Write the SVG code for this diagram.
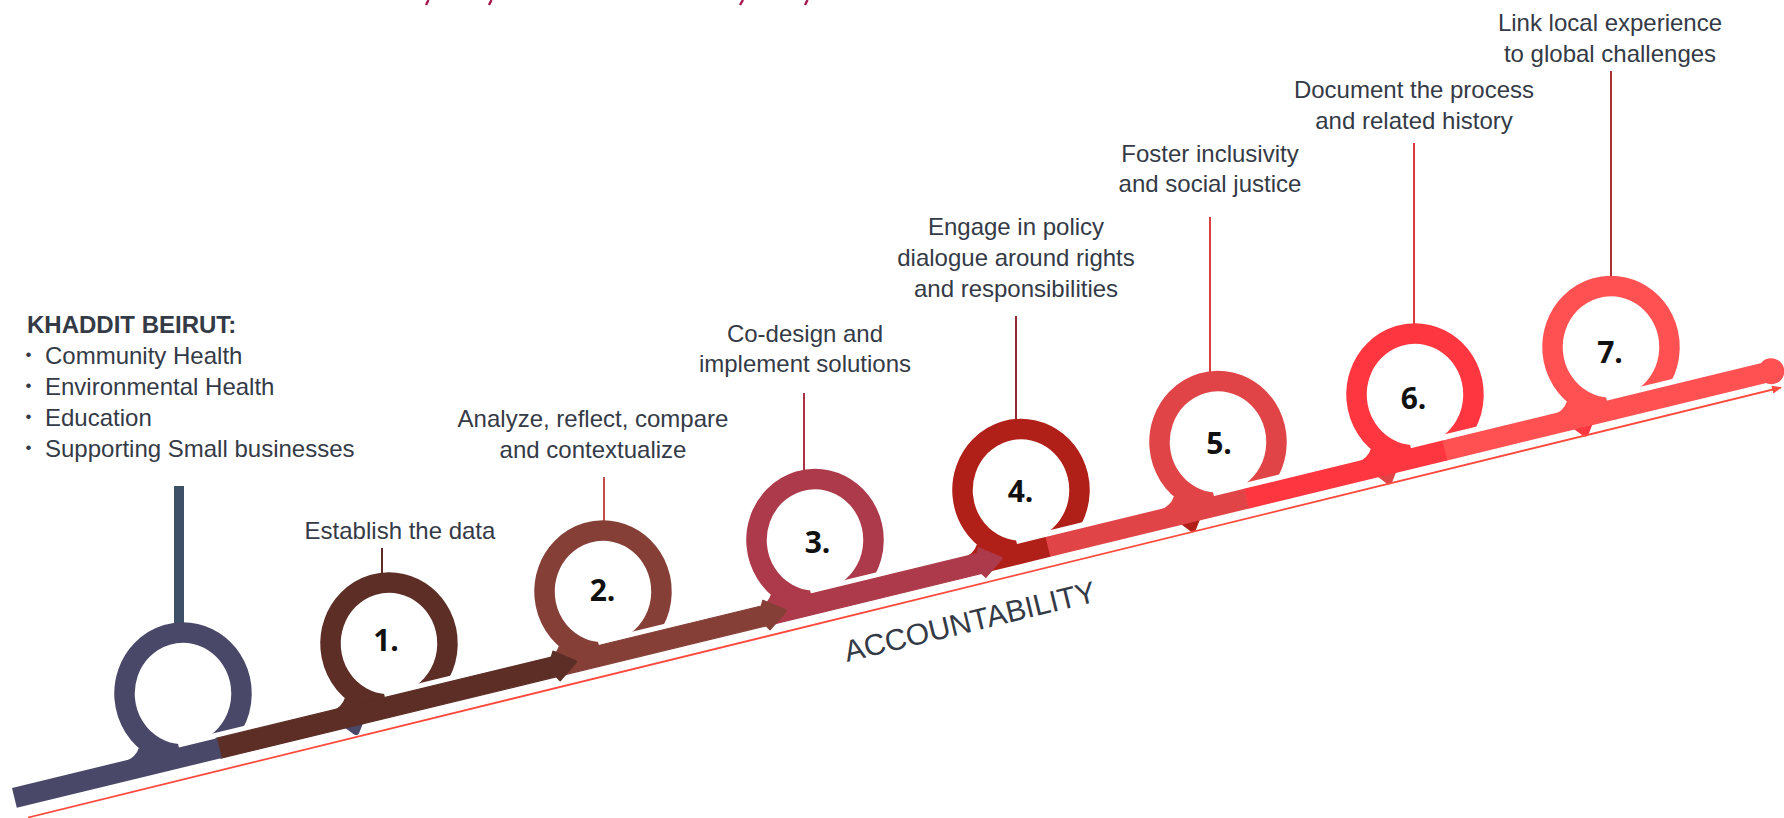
<svg xmlns="http://www.w3.org/2000/svg" width="1784" height="818" viewBox="0 0 1784 818">
<defs>
<style>
.lbl{font-family:"Liberation Sans",Arial,sans-serif;font-size:24px;fill:#343a46;text-anchor:middle}
.lst{font-family:"Liberation Sans",Arial,sans-serif;font-size:24px;fill:#343a46}
.bul{font-family:"Liberation Sans",Arial,sans-serif;font-size:17px;fill:#343a46}
.num{font-family:"Open Sans","DejaVu Sans",sans-serif;font-weight:700;font-size:30px;fill:#111111;text-anchor:middle}
.ring{fill:none;stroke-width:20.5}
.conn{stroke-width:2;fill:none}
.frag{stroke:#a3164c;stroke-width:2.4;fill:none}
.band{fill:#ffffff}
</style>
<marker id="arr" viewBox="0 0 10 8" refX="9" refY="4" markerWidth="10" markerHeight="8" markerUnits="userSpaceOnUse" orient="auto">
<path d="M0,0 L10,4 L0,8 Z" fill="#ff4a3d"/>
</marker>
</defs>
<rect width="1784" height="818" fill="#ffffff"/>

<g id="top-fragments">
<line class="frag" x1="428.5" y1="0" x2="426" y2="5"/>
<line class="frag" x1="491.5" y1="0" x2="489" y2="5"/>
<line class="frag" x1="743" y1="0" x2="740" y2="5"/>
<line class="frag" x1="807.5" y1="0" x2="805" y2="5"/>
</g>

<g id="node-khaddit">
<text class="lst" x="27" y="333" font-weight="700">KHADDIT BEIRUT:</text>
<text class="bul" x="25.5" y="360">•</text><text class="lst" x="45" y="364">Community Health</text>
<text class="bul" x="25.5" y="391">•</text><text class="lst" x="45" y="395">Environmental Health</text>
<text class="bul" x="25.5" y="422">•</text><text class="lst" x="45" y="426">Education</text>
<text class="bul" x="25.5" y="453">•</text><text class="lst" x="45" y="457">Supporting Small businesses</text>
<rect x="174" y="486" width="10" height="138" fill="#3e5068"/>
<path class="ring" stroke="#4a4868" d="M216.55,743.47 A58.5,61 0 1 0 179.94,754.42"/>
<path fill="#4a4868" d="M138.8,748.1 Q136,757.5 125,761.6 L163,755.5 Z"/>
</g>

<g id="node-1">
<line class="conn" stroke="#5c2e26" x1="382" y1="548" x2="382" y2="574"/>
<text class="lbl" x="400" y="539">Establish the data</text>
<path class="ring" stroke="#5c2e26" d="M422.55,693.47 A58.5,61 0 1 0 385.94,704.42"/>
<path fill="#5c2e26" d="M344.8,698.1 Q342,707.5 331,711.6 L369,705.5 Z"/>
<text class="num" x="386" y="651">1.</text>
</g>

<g id="node-2">
<line class="conn" stroke="#c0504d" x1="604" y1="477" x2="604" y2="522"/>
<text class="lbl" x="593" y="427">Analyze, reflect, compare</text>
<text class="lbl" x="593" y="458">and contextualize</text>
<path class="ring" stroke="#853f37" d="M636.55,641.47 A58.5,61 0 1 0 599.94,652.42"/>
<path fill="#853f37" d="M558.8,646.1 Q556,655.5 545,659.6 L583,653.5 Z"/>
<text class="num" x="602.5" y="601">2.</text>
</g>

<g id="node-3">
<line class="conn" stroke="#a83245" x1="804" y1="393" x2="804" y2="470"/>
<text class="lbl" x="805" y="342">Co-design and</text>
<text class="lbl" x="805" y="372">implement solutions</text>
<path class="ring" stroke="#ad3a4a" d="M848.55,589.97 A58.5,61 0 1 0 811.94,600.92"/>
<path fill="#ad3a4a" d="M770.8,594.6 Q768,604 757,608.1 L795,602 Z"/>
<text class="num" x="817.5" y="553">3.</text>
</g>

<g id="node-4">
<line class="conn" stroke="#8f2a33" x1="1016" y1="316" x2="1016" y2="420"/>
<text class="lbl" x="1016" y="235">Engage in policy</text>
<text class="lbl" x="1016" y="266">dialogue around rights</text>
<text class="lbl" x="1016" y="297">and responsibilities</text>
<path class="ring" stroke="#b01f18" d="M1054.55,539.97 A58.5,61 0 1 0 1017.94,550.92"/>
<path fill="#b01f18" d="M976.8,544.6 Q974,554 963,558.1 L1001,552 Z"/>
<text class="num" x="1020.5" y="502">4.</text>
</g>

<g id="node-5">
<line class="conn" stroke="#d9403f" x1="1210" y1="217" x2="1210" y2="372"/>
<text class="lbl" x="1210" y="162">Foster inclusivity</text>
<text class="lbl" x="1210" y="192">and social justice</text>
<path class="ring" stroke="#e04446" d="M1251.55,491.97 A58.5,61 0 1 0 1214.94,502.92"/>
<path fill="#e04446" d="M1173.8,496.6 Q1171,506 1160,510.1 L1198,504 Z"/>
<text class="num" x="1219" y="454">5.</text>
</g>

<g id="node-6">
<line class="conn" stroke="#e0393f" x1="1414" y1="143" x2="1414" y2="325"/>
<text class="lbl" x="1414" y="98">Document the process</text>
<text class="lbl" x="1414" y="129">and related history</text>
<path class="ring" stroke="#fe363f" d="M1448.55,444.47 A58.5,61 0 1 0 1411.94,455.42"/>
<path fill="#fe363f" d="M1370.8,449.1 Q1368,458.5 1357,462.6 L1395,456.5 Z"/>
<text class="num" x="1413.5" y="409">6.</text>
</g>

<g id="node-7">
<line class="conn" stroke="#a83232" x1="1611" y1="71" x2="1611" y2="277"/>
<text class="lbl" x="1610" y="31">Link local experience</text>
<text class="lbl" x="1610" y="62">to global challenges</text>
<path class="ring" stroke="#ff5052" d="M1644.55,396.97 A58.5,61 0 1 0 1607.94,407.92"/>
<path fill="#ff5052" d="M1566.8,401.6 Q1564,411 1553,415.1 L1591,409 Z"/>
<text class="num" x="1610" y="362.5">7.</text>
</g>

<g id="connectors" transform="translate(14.4,797.9) rotate(-13.65)">
<g id="bumps" stroke-linejoin="round" stroke-width="1.5">
<path fill="#4a4868" stroke="#4a4868" d="M338,9 L356,9 L350,17.5 Q347.5,20.5 345,17.5 Z"/>
<path fill="#b01f18" stroke="#b01f18" d="M1199,9 L1217,9 L1211,17.5 Q1208.5,20.5 1206,17.5 Z"/>
<path fill="#e04446" stroke="#e04446" d="M1401,9 L1419,9 L1413,17.5 Q1410.5,20.5 1408,17.5 Z"/>
<path fill="#fe363f" stroke="#fe363f" d="M1603,9 L1621,9 L1615,17.5 Q1612.5,20.5 1610,17.5 Z"/>
</g>
<g id="gaps">
<rect class="band" x="171.8" y="-15.8" width="91.6" height="6.2"/>
<rect class="band" x="383.8" y="-15.8" width="91.6" height="6.2"/>
<rect class="band" x="604" y="-15.8" width="91.6" height="6.2"/>
<rect class="band" x="822.2" y="-15.8" width="91.6" height="6.2"/>
<rect class="band" x="1034.2" y="-15.8" width="91.6" height="6.2"/>
<rect class="band" x="1236.9" y="-15.8" width="91.6" height="6.2"/>
<rect class="band" x="1439.6" y="-15.8" width="91.6" height="6.2"/>
<rect class="band" x="1641.3" y="-15.8" width="91.6" height="6.2"/>
</g>
<g id="segments" stroke-linejoin="round" stroke-width="1.2">
<rect x="1471" y="-10.2" width="339" height="20.4" fill="#ff5052"/>
<circle cx="1808" cy="0" r="13" fill="#ff5052"/>
<rect x="1267.5" y="-10.2" width="204.5" height="20.4" fill="#fe363f"/>
<rect x="1062.5" y="-10.2" width="205.5" height="20.4" fill="#e04446"/>
<rect x="995" y="-10.2" width="68.5" height="20.4" fill="#b01f18"/>
<path fill="#ad3a4a" stroke="#ad3a4a" d="M773,-10.2 H993 L996,-15.5 L1015.5,-1.2 Q1017,0 1015.5,1.2 L996,15 L993,10.2 H773 Z"/>
<path fill="#853f37" stroke="#853f37" d="M557,-10.2 H771 L774,-15.5 L793.5,-1.2 Q795,0 793.5,1.2 L774,15 L771,10.2 H557 Z"/>
<path fill="#5c2e26" stroke="#5c2e26" d="M210,-10.2 H555 L558,-15.5 L577.5,-1.2 Q579,0 577.5,1.2 L558,15 L555,10.2 H210 Z"/>
<rect x="0" y="-10.2" width="211" height="20.4" fill="#4a4868"/>
</g>
</g>

<g id="accountability">
<line x1="28" y1="817.5" x2="1781" y2="387.5" stroke="#ff4a3d" stroke-width="1.8" marker-end="url(#arr)"/>
<text transform="translate(847,662) rotate(-13.65)" font-family="Liberation Sans, Arial, sans-serif" font-size="30" fill="#343a46">ACCOUNTABILITY</text>
</g>
</svg>
